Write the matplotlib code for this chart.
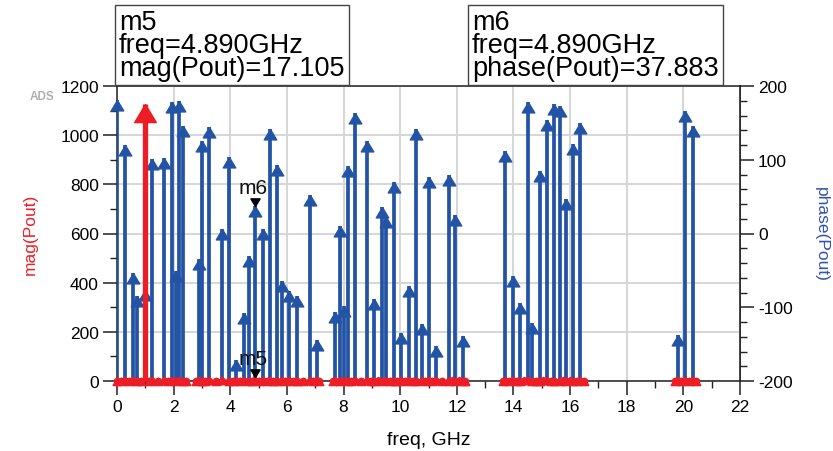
"""
plot.py
-------
ADS style spectrum of Pout: mag(Pout) on the left axis (red arrows),
phase(Pout) on the right axis (blue arrows), with markers m5 / m6.
"""

import numpy as np
import matplotlib
matplotlib.use("Agg")
import matplotlib.pyplot as plt
from matplotlib.path import Path
from matplotlib.ticker import MultipleLocator

plt.rcParams['font.family'] = ['Liberation Sans', 'DejaVu Sans']
plt.rcParams['axes.unicode_minus'] = False

OUTPUT_CHART = "out.png"
BLUE = '#2353a4'
RED = '#ee1d25'

# ── Data ───────────────────────────────────────────────────────────────────────
# phase(Pout) in degrees, per spectral line (GHz)
phase_freq = [0.00, 0.28, 0.58, 0.69, 1.00, 1.25, 1.66, 1.93, 2.07, 2.19, 2.33,
              2.88, 3.00, 3.25, 3.70, 3.95, 4.21, 4.47, 4.65, 4.89, 5.17, 5.41,
              5.64, 5.83, 6.08, 6.36, 6.80, 7.05,
              7.70, 7.88, 8.02, 8.16, 8.40, 8.84, 9.07, 9.35, 9.50, 9.78, 10.03,
              10.30, 10.57, 10.77, 11.00, 11.27, 11.71, 11.94, 12.22,
              13.71, 13.98, 14.24, 14.50, 14.65, 14.92, 15.18, 15.44, 15.63,
              15.87, 16.12, 16.36,
              19.80, 20.07, 20.34]
phase_deg = [181, 120, -54, -85, -76, 101, 103, 178, -51, 180, 146,
             -34, 125, 145, 6, 104, -171, -108, -30, 37.883, 6, 142,
             93, -64, -78, -85, 52, -144,
             -106, 10, -98, 91, 163, 125, -89, 36, 22, 70, -135,
             -71, 142, -123, 76, -153, 79, 25, -139,
             112, -58, -94, 178, -121, 85, 154, 175, 173,
             47, 121, 150,
             -138, 166, 146]

# mag(Pout), per spectral line (GHz), grouped by band
mag_freq_a = [0.00, 0.14, 0.28, 0.43, 0.58, 0.69, 0.85, 1.00, 1.12, 1.25, 1.45,
              1.66, 1.80, 1.93, 2.07, 2.19, 2.33, 2.42]
mag_val_a = [14, 12, 16, 11, 15, 13, 12, 1125, 14, 16, 12,
             15, 13, 17, 12, 15, 14, 11]
mag_freq_b = [2.78, 2.88, 3.00, 3.12, 3.25, 3.48, 3.70, 3.95, 4.08, 4.21, 4.34,
              4.47, 4.65, 4.77, 4.89, 5.03, 5.17, 5.29, 5.41, 5.52, 5.64, 5.83,
              5.95, 6.08, 6.22, 6.36, 6.58, 6.80, 6.92, 7.05, 7.15]
mag_val_b = [12, 16, 14, 13, 15, 12, 17, 14, 11, 16, 13,
             15, 12, 14, 17.105, 13, 16, 12, 15, 14, 11, 16,
             13, 15, 12, 14, 13, 16, 12, 15, 11]
mag_freq_c = [7.62, 7.70, 7.88, 8.02, 8.16, 8.28, 8.40, 8.62, 8.84, 8.96, 9.07,
              9.22, 9.35, 9.50, 9.64, 9.78, 9.90, 10.03, 10.17, 10.30, 10.44,
              10.57, 10.77, 10.88, 11.00, 11.14, 11.27, 11.49, 11.71, 11.82,
              11.94, 12.08, 12.22, 12.30]
mag_val_c = [13, 15, 12, 16, 14, 11, 17, 13, 15, 12, 14,
             16, 13, 15, 12, 14, 11, 16, 13, 15, 12,
             14, 17, 13, 15, 12, 16, 14, 11, 15,
             13, 16, 12, 14]
mag_freq_d = [13.62, 13.71, 13.85, 13.98, 14.11, 14.24, 14.37, 14.50, 14.65,
              14.78, 14.92, 15.05, 15.18, 15.31, 15.44, 15.63, 15.75, 15.87,
              16.00, 16.12, 16.24, 16.36, 16.48]
mag_val_d = [12, 15, 13, 16, 14, 11, 15, 17, 13,
             14, 12, 16, 15, 13, 14, 12, 16, 13,
             15, 12, 14, 16, 11]
mag_freq_e = [19.70, 19.80, 19.93, 20.07, 20.20, 20.34, 20.46]
mag_val_e = [13, 15, 12, 16, 14, 15, 12]

# markers
m_freq = 4.890
m5_mag = 17.105
m6_phase = 37.883


# ── Helpers ────────────────────────────────────────────────────────────────────
def ph2mag(p):
    # right axis (-200..200 deg) mapped onto left axis (0..1200)
    return (np.asarray(p, dtype=float) + 200.0) * 3.0


def mag2ph(m):
    return np.asarray(m, dtype=float) / 3.0 - 200.0


# arrow heads with the apex at the data point
ARROW_UP = Path([(0, 0), (-0.6, -1), (0.6, -1), (0, 0)],
                [Path.MOVETO, Path.LINETO, Path.LINETO, Path.CLOSEPOLY])
ARROW_DN = Path([(0, 0), (-0.6, 1), (0.6, 1), (0, 0)],
                [Path.MOVETO, Path.LINETO, Path.LINETO, Path.CLOSEPOLY])


def main():
    mag_freq = np.array(mag_freq_a + mag_freq_b + mag_freq_c + mag_freq_d + mag_freq_e)
    mag_val = np.array(mag_val_a + mag_val_b + mag_val_c + mag_val_d + mag_val_e)
    big = mag_val > 100

    fig = plt.figure(figsize=(8.33, 4.52), dpi=100)
    fig.patch.set_facecolor('white')
    ax = fig.add_axes([117 / 833, 70 / 452, 623 / 833, 295 / 452])

    # ── phase stems (blue) ────────────────────────────────────────────────────
    py = ph2mag(phase_deg)
    ax.vlines(phase_freq, 0, py, colors=BLUE, lw=2.7, zorder=3)
    ax.plot(phase_freq, py, ls='none', marker=ARROW_UP, ms=15,
            color=BLUE, mec=BLUE, zorder=3, clip_on=False)

    # ── mag stems (red) ───────────────────────────────────────────────────────
    ax.vlines(mag_freq[~big], 0, mag_val[~big], colors=RED, lw=2.0, zorder=4)
    ax.plot(mag_freq[~big], mag_val[~big], ls='none', marker=ARROW_UP, ms=10,
            color=RED, mec=RED, mew=1.2, zorder=4, clip_on=False)
    ax.plot(mag_freq[~big], np.zeros((~big).sum()), ls='none', marker='o',
            ms=4.5, color=RED, mec=RED, zorder=4, clip_on=False)
    ax.vlines(mag_freq[big], 0, mag_val[big], colors=RED, lw=3.8, zorder=4)
    ax.plot(mag_freq[big], mag_val[big], ls='none', marker=ARROW_UP, ms=26,
            color=RED, mec=RED, zorder=4)

    # ── markers m5 / m6 ───────────────────────────────────────────────────────
    for yv, name in [(ph2mag(m6_phase), 'm6'), (m5_mag, 'm5')]:
        ax.plot(m_freq, yv, ls='none', marker=ARROW_DN, ms=11,
                color='black', zorder=6)
        ax.annotate(name, xy=(m_freq, yv), xytext=(-2, 6),
                    textcoords='offset points', ha='center', va='bottom',
                    fontsize=15, color='#111111', zorder=6)

    # ── axes ──────────────────────────────────────────────────────────────────
    ax.set_xlim(0, 22)
    ax.set_ylim(0, 1200)
    ax.xaxis.set_major_locator(MultipleLocator(2))
    ax.xaxis.set_minor_locator(MultipleLocator(1))
    ax.yaxis.set_major_locator(MultipleLocator(200))
    ax.yaxis.set_minor_locator(MultipleLocator(100))
    ax.grid(True, which='major', color='#d6d6d6', lw=1.4, zorder=0)
    ax.set_axisbelow(True)
    ax.tick_params(which='major', length=10, width=1.1, labelsize=12.5,
                   pad=3, color='#222222')
    ax.tick_params(which='minor', length=5, width=1.0, color='#222222')
    for sp in ax.spines.values():
        sp.set_color('#222222')
        sp.set_linewidth(1.1)

    sec = ax.secondary_yaxis('right', functions=(mag2ph, ph2mag))
    sec.yaxis.set_major_locator(MultipleLocator(100))
    sec.yaxis.set_minor_locator(MultipleLocator(20))
    sec.tick_params(which='major', length=10, width=1.1, labelsize=12.5,
                    pad=3, color='#222222')
    sec.tick_params(which='minor', length=5, width=1.0, color='#222222')
    sec.spines['right'].set_color('#222222')
    sec.spines['right'].set_linewidth(1.1)

    ax.set_xlabel('freq, GHz', fontsize=14, labelpad=12)
    ax.set_ylabel('mag(Pout)', fontsize=12.5, color=RED, labelpad=16)
    sec.set_ylabel('phase(Pout)', fontsize=12.5, color='#3352b0',
                   rotation=270, labelpad=26)

    # ── marker readout boxes and ADS tag ──────────────────────────────────────
    box = dict(boxstyle='square,pad=0.15', fc='white', ec='#444444', lw=1.0)
    fig.text(119 / 833, 1 - 10 / 452,
             'm5\nfreq=4.890GHz\nmag(Pout)=17.105',
             ha='left', va='top', fontsize=19.5, linespacing=0.85, bbox=box)
    fig.text(472 / 833, 1 - 10 / 452,
             'm6\nfreq=4.890GHz\nphase(Pout)=37.883',
             ha='left', va='top', fontsize=19.5, linespacing=0.85, bbox=box)
    fig.text(30 / 833, 1 - 97 / 452, 'ADS', fontsize=8.5, weight='bold',
             color='#b0b0b0', va='center', ha='left')

    fig.savefig(OUTPUT_CHART, dpi=100)
    plt.close(fig)


if __name__ == "__main__":
    main()
